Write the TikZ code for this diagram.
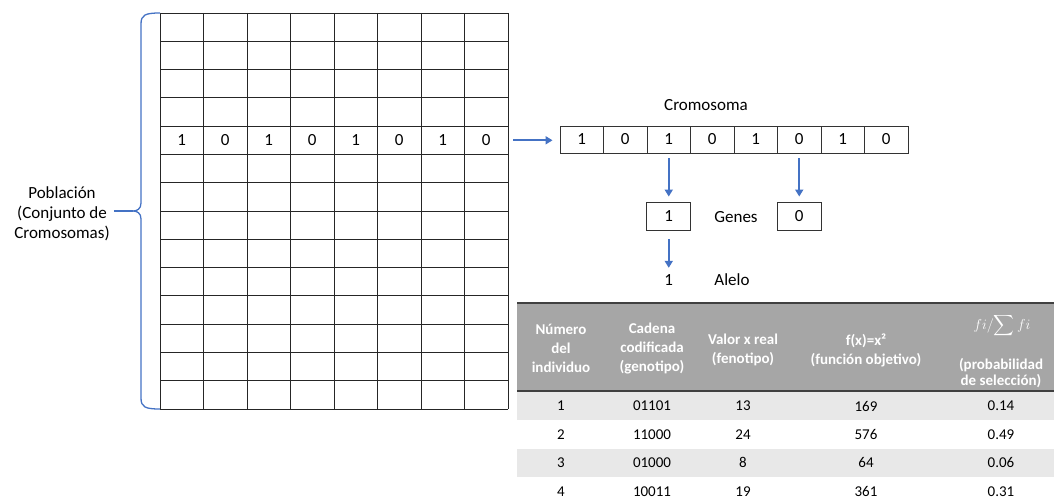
\documentclass[tikz,border=0pt]{standalone}
\usepackage{exscale}
\usepackage{fontspec}
\setmainfont{Carlito}
\usetikzlibrary{arrows.meta}
\definecolor{officeblue}{HTML}{4472C4}
\definecolor{hdrgray}{HTML}{A6A6A6}
\definecolor{bandgray}{HTML}{E8E8E8}
\definecolor{rulegray}{HTML}{404040}

\begin{document}
\begin{tikzpicture}[x=1pt,y=-1pt,
  lbl/.style={font=\fontsize{17}{20}\selectfont, inner sep=0pt},
  gridline/.style={draw=black!85, line width=0.9pt},
  cell/.style={draw=black!80, line width=0.9pt, minimum width=43.5pt,
    minimum height=27pt, inner sep=0pt, font=\fontsize{17}{20}\selectfont},
  genebox/.style={cell, minimum width=44pt, minimum height=28pt},
  arr/.style={officeblue, line width=1.8pt, -{Triangle[length=7pt,width=8pt]}},
  bracecol/.style={officeblue, line width=1.3pt},
  hdr/.style={font=\fontsize{15}{19}\selectfont\bfseries, text=white,
    align=center, inner sep=0pt},
  td/.style={font=\fontsize{15}{18}\selectfont, inner sep=0pt},
]
\useasboundingbox (0,0) rectangle (1054,500);

% population grid: 14 chromosomes of 8 genes
\foreach \i in {0,...,14}
  \draw[gridline] (160,13+\i*28.2857) -- (508,13+\i*28.2857);
\foreach \j in {0,...,8}
  \draw[gridline] (160+\j*43.5,13) -- (160+\j*43.5,409);
\foreach \b [count=\k from 0] in {1,0,1,0,1,0,1,0}
  \node[lbl] (p\k) at (181.75+\k*43.5,140.3) {\b};
\coordinate (rowend) at (508,140.3);

% brace and population label
\coordinate (tip) at (133,211);
\draw[bracecol] (160,13) .. controls (145,13) and (141,15) .. (141,24)
  -- (141,203) .. controls (141,209) and (137,211) .. (tip)
  .. controls (137,211) and (141,213) .. (141,219)
  -- (141,398) .. controls (141,407) and (145,409) .. (160,409);
\node[lbl, align=center] (pob) at (62,214) {Población\\(Conjunto de\\Cromosomas)};
\draw[bracecol, shorten <=4pt] (pob.east |- tip) -- (tip);

% single chromosome
\foreach \b [count=\k] in {1,0,1,0,1,0,1,0}
  \node[cell] (c\k) at (538.25+\k*43.5,139.5) {\b};
\node[lbl] (crom) at (706,105) {Cromosoma};
\draw[arr, shorten <=5pt, shorten >=7pt] (rowend) -- (rowend -| c1.west);

% genes and allele
\node[genebox] (g1) at (668.75,216) {1};
\node[genebox] (g2) at (799.25,216) {0};
\node[lbl] (genes) at (736,217) {Genes};
\draw[arr, shorten <=5pt, shorten >=5pt] (c3.south) -- (g1.north);
\draw[arr, shorten <=5pt, shorten >=5pt] (c6.south) -- (g2.north);
\node[lbl] (al) at (668.75,280) {1};
\node[lbl] (alelo) at (732,280) {Alelo};
\draw[arr, shorten <=9pt, shorten >=6.5pt] (g1.south) -- (al.north);

% table
\fill[bandgray] (517,391) rectangle (1054,420.3);
\fill[bandgray] (517,448.6) rectangle (1054,477);
\fill[hdrgray] (517,303) rectangle (1054,391);
\draw[rulegray, line width=2.5pt] (517,303) -- (1054,303);
\draw[rulegray, line width=2pt] (517,391) -- (1054,391);

\node[hdr] (h1) at (561,348.5) {Número\\del\\individuo};
\node[hdr] (h2) at (652,348.5) {Cadena\\codificada\\(genotipo)};
\node[hdr] (h3) at (743,350) {Valor x real\\(fenotipo)};
\node[hdr] (h4) at (866,350) {f(x)=x²\\(función objetivo)};
\node[text=white, inner sep=0pt] (h5m) at (1002,326)
  {\fontsize{15}{19}\selectfont$\displaystyle fi/\!\sum fi$};
\node[hdr, font=\fontsize{15}{16}\selectfont\bfseries] (h5) at (1001,373)
  {(probabilidad\\de selección)};

\foreach \ia/\ib/\ic/\id/\ie [count=\r from 0] in
  {1/01101/13/169/0.14, 2/11000/24/576/0.49, 3/01000/8/64/0.06, 4/10011/19/361/0.31} {
  \node[td] (n\r) at (561,406+\r*28.4) {\ia};
  \node[td] (s\r) at (652,406+\r*28.4) {\ib};
  \node[td] (v\r) at (743,406+\r*28.4) {\ic};
  \node[td] (f\r) at (866,406+\r*28.4) {\id};
  \node[td] (q\r) at (1001,406+\r*28.4) {\ie};
}
\end{tikzpicture}
\end{document}
